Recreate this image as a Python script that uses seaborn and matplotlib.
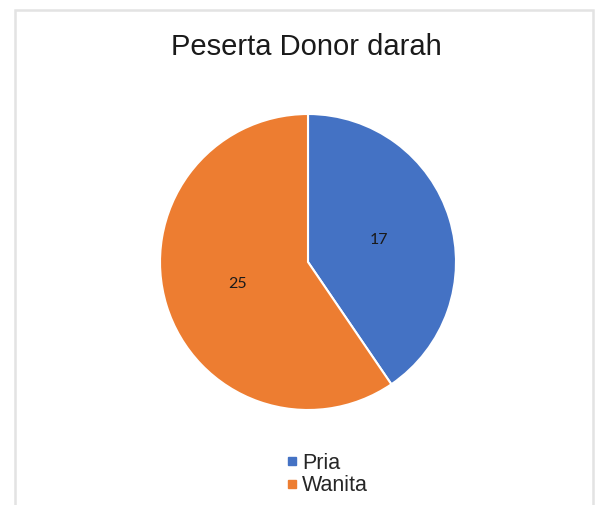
import matplotlib
matplotlib.use('Agg')
import matplotlib.pyplot as plt
import seaborn as sns
from matplotlib.lines import Line2D
from matplotlib.patches import Rectangle

categories = ['Pria', 'Wanita']
values = [17, 25]
colors = ['#4472C4', '#ED7D31']
title = 'Peserta Donor darah'

sns.set_theme(style='white')
plt.rcParams['font.family'] = ['Liberation Sans', 'DejaVu Sans']

W, H = 595, 505
fig = plt.figure(figsize=(W / 100, H / 100), dpi=100)
fig.patch.set_facecolor('white')

# chart border
fig.patches.append(Rectangle((15 / W, -0.05), (593 - 15) / W, 1.05 - 10 / H,
                             transform=fig.transFigure, fill=False,
                             edgecolor='#e3e3e3', linewidth=1.8))

ax = fig.add_axes([160 / W, 95 / H, 296 / W, 296 / H])
wedges, texts = ax.pie(values, colors=colors, startangle=90, counterclock=False,
                       labels=[str(v) for v in values], labeldistance=0.5,
                       wedgeprops=dict(edgecolor='white', linewidth=1.5),
                       textprops=dict(fontsize=11.5, color='#1a1a1a', family=['Lato', 'DejaVu Sans']))
for t in texts:
    t.set_ha('center')
    t.set_va('center')
ax.set_xlim(-1, 1)
ax.set_ylim(-1, 1)
ax.set_aspect('equal')

fig.text(306 / W, 1 - 55 / H, title, ha='center', va='baseline', fontsize=21, color='#1a1a1a')

handles = [Line2D([], [], marker='s', linestyle='', color=c, markersize=6) for c in colors]
fig.legend(handles, categories, loc='upper left', bbox_to_anchor=(286 / W, 1 - 453 / H),
           frameon=False, fontsize=15.5, handlelength=0.6, handletextpad=0.15,
           labelspacing=0.05, borderpad=0, borderaxespad=0)

fig.savefig('out.png', dpi=100)
